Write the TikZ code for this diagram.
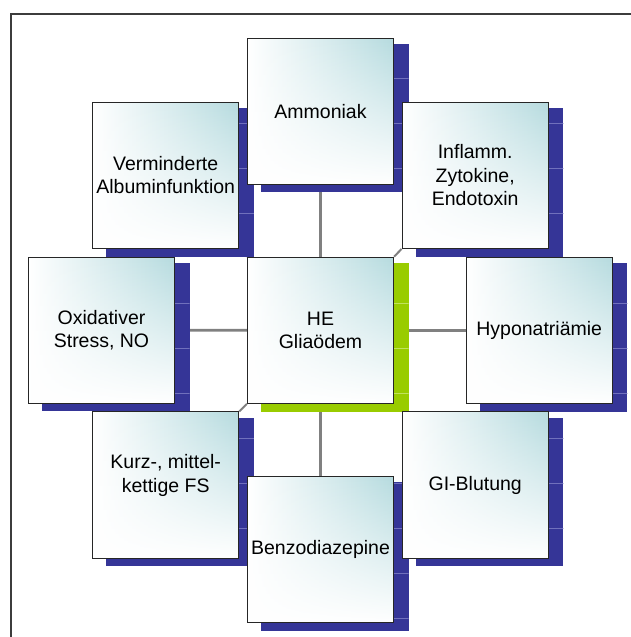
\documentclass[tikz,border=0pt]{standalone}
\usepackage{fontspec}
\setmainfont{Liberation Sans}
\usetikzlibrary{backgrounds,fadings}
\definecolor{tealc}{RGB}{182,219,223}
\definecolor{shblue}{RGB}{53,53,151}
\definecolor{shblueline}{RGB}{112,112,188}
\definecolor{shgreen}{RGB}{153,204,0}
\definecolor{shgreenline}{RGB}{192,226,92}
\definecolor{connc}{RGB}{128,128,128}
\definecolor{framec}{RGB}{60,60,60}
\tikzset{
  hebox/.style={rectangle, draw=black!85, line width=0.9pt,
    minimum width=146.3pt, minimum height=146.3pt, inner sep=0pt,
    align=center, left color=white, right color=tealc,
    font=\fontsize{19.5}{23.3}\selectfont, text=black,
    path picture={\fill[white, path fading=north]
      (path picture bounding box.south west) rectangle (path picture bounding box.north east);}},
  conn/.style={draw=connc, line width=2.8pt},
  diag/.style={draw=connc, line width=2pt},
}
\newcommand\placebox[6]{%
  \fill[#4] (#2-59.5,#3-67.2) rectangle (#2+88.2,#3+81.2);
  \begin{scope}
    \clip (#2-59.5,#3-67.2) rectangle (#2+88.2,#3+81.2);
    \foreach \k in {1,...,13} \draw[#5, line width=0.7pt] (#2-61,33+45*\k) -- (#2+90,33+45*\k);
  \end{scope}
  \node[hebox] (#1) at (#2,#3) {#6};
}
\begin{document}
\begin{tikzpicture}[x=1pt,y=-1pt]
\useasboundingbox (0,0) rectangle (631,637);
\draw[framec, line width=1.3pt] (11,640) -- (11,14) -- (634,14);
\placebox{alb}{165.7}{175.3}{shblue}{shblueline}{Verminderte\\Albuminfunktion}
\placebox{amm}{320.5}{111.2}{shblue}{shblueline}{Ammoniak}
\placebox{inf}{475.2}{175.3}{shblue}{shblueline}{Inflamm.\\Zytokine,\\Endotoxin}
\placebox{oxi}{101.5}{330.2}{shblue}{shblueline}{Oxidativer\\Stress, NO}
\placebox{he}{320.5}{330.3}{shgreen}{shgreenline}{HE\\Gliaödem}
\placebox{hyp}{539.2}{330.3}{shblue}{shblueline}{Hyponatriämie}
\placebox{kurz}{165.7}{485}{shblue}{shblueline}{Kurz-, mittel-\\kettige FS\\\mbox{}}
\placebox{benz}{320.5}{549.3}{shblue}{shblueline}{Benzodiazepine}
\placebox{gi}{475.2}{485}{shblue}{shblueline}{GI-Blutung}
\begin{scope}[on background layer]
  \draw[conn] (amm) -- (he);
  \draw[conn] (oxi) -- (he);
  \draw[conn] (he) -- (hyp);
  \draw[conn] (he) -- (benz);
  \draw[diag] (he.north east) -- (inf.south west);
  \draw[diag] (he.south west) -- (kurz.north east);
  \draw[diag] (he.north west) -- (alb.south east);
  \draw[diag] (he.south east) -- (gi.north west);
\end{scope}
\end{tikzpicture}
\end{document}
